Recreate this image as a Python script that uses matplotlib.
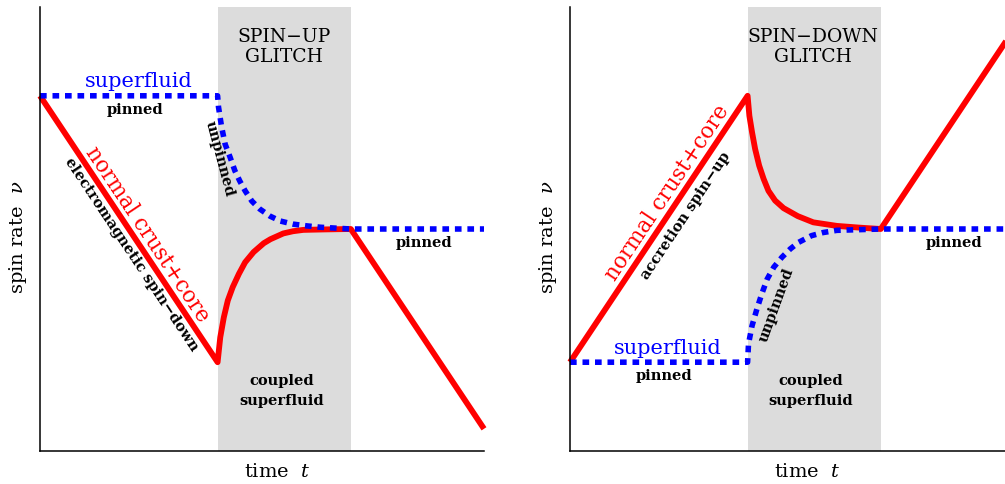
import matplotlib
matplotlib.use('Agg')
import matplotlib.pyplot as plt

plt.rcParams['font.family'] = ['DejaVu Serif']
plt.rcParams['mathtext.fontset'] = 'dejavuserif'

# glitch window (time units)
glitch_start = 4.0
glitch_end = 7.0

# left panel: spin-up glitch
t_left_red = [0, 4.0, 4.06, 4.14, 4.23, 4.34, 4.48, 4.62, 4.81, 5.04, 5.19, 5.48,
              5.70, 5.93, 6.38, 7.0, 10.0]
nu_left_red = [8.0, 2.0, 2.56, 3.01, 3.39, 3.69, 3.99, 4.25, 4.48, 4.68, 4.77, 4.90,
               4.95, 4.98, 4.99, 5.0, 0.5]
t_left_blue = [0, 4.0, 4.02, 4.09, 4.17, 4.28, 4.39, 4.50, 4.62, 4.77, 4.95, 5.18,
               5.41, 5.70, 6.01, 6.31, 7.0, 10.0]
nu_left_blue = [8.0, 8.0, 7.75, 7.30, 6.91, 6.62, 6.31, 6.08, 5.86, 5.63, 5.45, 5.29,
                5.18, 5.11, 5.07, 5.04, 5.0, 5.0]

# right panel: spin-down glitch
t_right_red = [0, 4.0, 4.04, 4.10, 4.17, 4.26, 4.36, 4.47, 4.62, 4.81, 5.13, 5.48,
               6.01, 6.53, 7.0, 10.0]
nu_right_red = [2.0, 8.0, 7.55, 7.18, 6.80, 6.43, 6.13, 5.86, 5.64, 5.47, 5.29, 5.15,
                5.07, 5.03, 5.0, 9.5]
t_right_blue = [0, 4.0, 4.02, 4.10, 4.21, 4.32, 4.44, 4.59, 4.77, 4.96, 5.15, 5.44,
                5.70, 6.01, 7.0, 10.0]
nu_right_blue = [2.0, 2.0, 2.41, 2.82, 3.20, 3.54, 3.87, 4.14, 4.36, 4.55, 4.70, 4.85,
                 4.92, 4.97, 5.0, 5.0]

RED = '#ff0000'
BLUE = '#0000ff'
GREY = '#dcdcdc'

fig = plt.figure(figsize=(10.05, 4.85), dpi=100)
ax1 = fig.add_axes([40/1005, 33/485, 444/1005, 444/485])
ax2 = fig.add_axes([570/1005, 33/485, 444/1005, 444/485])


def setup(ax):
    ax.set_xlim(0, 10)
    ax.set_ylim(0, 10)
    ax.set_xticks([])
    ax.set_yticks([])
    for s in ['top', 'right']:
        ax.spines[s].set_visible(False)
    for s in ['left', 'bottom']:
        ax.spines[s].set_linewidth(1.1)
        ax.spines[s].set_zorder(5)
    ax.axvspan(glitch_start, glitch_end, color=GREY, lw=0, zorder=0)
    # axis titles
    ax.text(0.534, -0.045, r'time  $t$', transform=ax.transAxes, ha='center',
            va='center', fontsize=14)
    ax.text(-0.05, 0.484, r'spin rate  $\nu$', transform=ax.transAxes, ha='center',
            va='center', rotation=90, fontsize=14)


setup(ax1)
setup(ax2)

dots = (0, (1.2, 1.05))

# left
ax1.plot(t_left_red, nu_left_red, color=RED, lw=4.2, solid_capstyle='butt',
         clip_on=False, zorder=3)
ax1.plot(t_left_blue, nu_left_blue, color=BLUE, lw=4.0, ls=dots,
         dash_capstyle='butt', clip_on=False, zorder=4)

ax1.text(5.5, 9.12, 'SPIN\u2212UP\nGLITCH', ha='center', va='center', fontsize=13.5,
         linespacing=1.15)
ax1.text(2.23, 8.35, 'superfluid', color=BLUE, ha='center', va='center', fontsize=15)
ax1.text(2.14, 7.70, 'pinned', ha='center', va='center', fontsize=10.5, fontweight='bold')
ax1.text(4.04, 6.60, 'unpinned', ha='center', va='center', fontsize=10.5,
         fontweight='bold', rotation=-75, rotation_mode='anchor')
ax1.text(2.41, 4.89, 'normal crust+core', color=RED, ha='center', va='center',
         fontsize=15.5, rotation=-56.3, rotation_mode='anchor')
ax1.text(2.05, 4.44, 'electromagnetic spin\u2212down', ha='center', va='center',
         fontsize=10.5, fontweight='bold', rotation=-56.3, rotation_mode='anchor')
ax1.text(8.65, 4.71, 'pinned', ha='center', va='center', fontsize=10.5, fontweight='bold')
ax1.text(5.45, 1.37, 'coupled\nsuperfluid', ha='center', va='center', fontsize=10.5,
         fontweight='bold', linespacing=1.5)

# right
ax2.plot(t_right_red, nu_right_red, color=RED, lw=4.2, solid_capstyle='butt',
         clip_on=False, zorder=3)
ax2.plot(t_right_blue, nu_right_blue, color=BLUE, lw=4.0, ls=dots,
         dash_capstyle='butt', clip_on=False, zorder=4)

ax2.text(5.47, 9.12, 'SPIN\u2212DOWN\nGLITCH', ha='center', va='center', fontsize=13.5,
         linespacing=1.15)
ax2.text(2.20, 5.83, 'normal crust+core', color=RED, ha='center', va='center',
         fontsize=15.5, rotation=56.3, rotation_mode='anchor')
ax2.text(2.60, 5.32, 'accretion spin\u2212up', ha='center', va='center',
         fontsize=10.5, fontweight='bold', rotation=56.3, rotation_mode='anchor')
ax2.text(2.20, 2.34, 'superfluid', color=BLUE, ha='center', va='center', fontsize=15)
ax2.text(2.12, 1.71, 'pinned', ha='center', va='center', fontsize=10.5, fontweight='bold')
ax2.text(4.66, 3.31, 'unpinned', ha='center', va='center', fontsize=10.5,
         fontweight='bold', rotation=70, rotation_mode='anchor')
ax2.text(8.64, 4.71, 'pinned', ha='center', va='center', fontsize=10.5, fontweight='bold')
ax2.text(5.42, 1.37, 'coupled\nsuperfluid', ha='center', va='center', fontsize=10.5,
         fontweight='bold', linespacing=1.5)

fig.savefig('out.png', dpi=100)
